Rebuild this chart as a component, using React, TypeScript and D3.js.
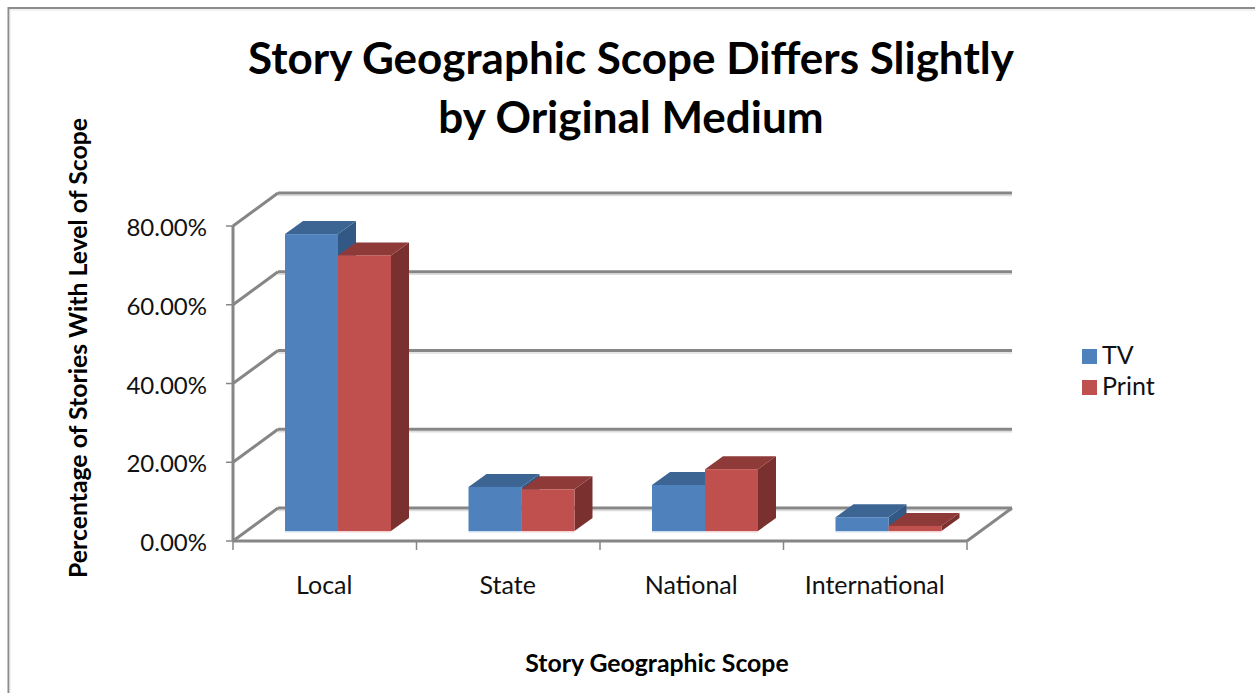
import React from "react";
import * as d3 from "d3";

const categories = ["Local", "State", "National", "International"];
const seriesNames = ["TV", "Print"];
const tvValues = [75.4, 11.2, 11.7, 3.5];
const printValues = [70.0, 10.6, 15.7, 1.3];
const yTicks = [0, 20, 40, 60, 80];
const titleLines = ["Story Geographic Scope Differs Slightly", "by Original Medium"];
const xTitle = "Story Geographic Scope";
const yTitle = "Percentage of Stories With Level of Scope";

const FONT = "Lato, 'Open Sans', sans-serif";
const LINE = "#868686";
const SHADOW = "#dcdcdc";
const palette = [
  { front: "#4F81BD", top: "#3D6594", side: "#325885", base: "#cfdff0" },
  { front: "#C0504D", top: "#8E3A38", side: "#7A302E", base: "#f2d3d2" },
];

const wallDx = 45;
const wallDy = -33;
const barDx = 18;
const barDy = -13;
const x0 = 233;
const x1 = 967;
const yZero = 541;
const yTop = 226;

const x = d3.scaleBand<string>().domain(categories).range([x0, x1]);
const y = d3.scaleLinear().domain([0, 80]).range([yZero, yTop]);
const inner = d3.scaleBand<string>().domain(seriesNames).range([52, 158]);
const values = [tvValues, printValues];
const barBase = 10; // front of the bars sits above the front floor edge

const pct = d3.format(".2f");

function pts(p: [number, number][]) {
  return p.map((q) => q.join(",")).join(" ");
}

export default function App() {
  return (
    <svg
      width={1255}
      height={693}
      viewBox="0 0 1255 693"
      style={{ position: "absolute", left: 0, top: 0, background: "#fff" }}
    >
      <path d="M8.5 693V8H1255" fill="none" stroke="#8c8c8c" strokeWidth={2} />
      <path d="M10 693V10H1255" fill="none" stroke="#e4e4e4" strokeWidth={1} />

      {/* grid: back wall and side wall */}
      {yTicks.map((t) => (
        <g key={t} fill="none" strokeLinecap="butt">
          <line x1={x0 + wallDx} x2={x1 + wallDx} y1={y(t) + wallDy + 2.5} y2={y(t) + wallDy + 2.5} stroke={SHADOW} strokeWidth={1.5} />
          <line x1={x0 + wallDx} x2={x1 + wallDx} y1={y(t) + wallDy} y2={y(t) + wallDy} stroke={LINE} strokeWidth={3} />
          <line x1={x0} x2={x0 + wallDx} y1={y(t)} y2={y(t) + wallDy} stroke={LINE} strokeWidth={3} />
          <line x1={x0 - 7} x2={x0} y1={y(t)} y2={y(t)} stroke={LINE} strokeWidth={1.5} />
          <text x={207} y={y(t)} dy={10} textAnchor="end" fontFamily={FONT} fontSize={24} fill="#111">
            {pct(t)}%
          </text>
        </g>
      ))}

      {/* axes */}
      <line x1={x0} x2={x0} y1={yTop} y2={yZero} stroke={LINE} strokeWidth={3} />
      <line x1={x0} x2={x1} y1={yZero} y2={yZero} stroke={LINE} strokeWidth={3} />
      <line x1={x1} x2={x1 + wallDx} y1={yZero} y2={yZero + wallDy} stroke={LINE} strokeWidth={3} />
      {[...categories.map((c) => x(c) as number), x1].map((v) => (
        <line key={v} x1={v} x2={v} y1={yZero} y2={yZero + 9} stroke={LINE} strokeWidth={1.5} />
      ))}

      {/* bars */}
      {categories.map((c, i) =>
        seriesNames.map((s, j) => {
          const left = (x(c) as number) + (inner(s) as number);
          const right = left + inner.bandwidth();
          const bottom = yZero - barBase;
          const top = y(values[j][i]) - barBase;
          const col = palette[j];
          return (
            <g key={c + s}>
              <polygon
                points={pts([[right, top], [right + barDx, top + barDy], [right + barDx, bottom + barDy], [right, bottom]])}
                fill={col.side}
              />
              <polygon
                points={pts([[left, top], [left + barDx, top + barDy], [right + barDx, top + barDy], [right, top]])}
                fill={col.top}
              />
              <rect x={left} y={top} width={right - left} height={bottom - top} fill={col.front} />
              <rect x={left} y={bottom} width={right - left} height={1.5} fill={col.base} />
            </g>
          );
        })
      )}

      {/* category labels */}
      {categories.map((c) => (
        <text
          key={c}
          x={(x(c) as number) + x.bandwidth() / 2 - 0.5}
          y={594}
          textAnchor="middle"
          fontFamily={FONT}
          fontSize={25}
          fill="#111"
        >
          {c}
        </text>
      ))}

      {/* legend */}
      {seriesNames.map((s, j) => (
        <g key={s}>
          <rect x={1082} y={349 + j * 31} width={15} height={15} fill={palette[j].front} />
          <text x={1102} y={364 + j * 31} fontFamily={FONT} fontSize={25} fill="#111">
            {s}
          </text>
        </g>
      ))}

      {/* titles */}
      {titleLines.map((t, k) => (
        <text key={t} x={631} y={74 + k * 59} textAnchor="middle" fontFamily={FONT} fontWeight={700} fontSize={44} fill="#000">
          {t}
        </text>
      ))}
      <text x={657} y={672} textAnchor="middle" fontFamily={FONT} fontWeight={700} fontSize={24.8} fill="#000">
        {xTitle}
      </text>
      <text
        transform="translate(87,348) rotate(-90)"
        textAnchor="middle"
        fontFamily={FONT}
        fontWeight={700}
        fontSize={24.8}
        fill="#000"
      >
        {yTitle}
      </text>
    </svg>
  );
}
